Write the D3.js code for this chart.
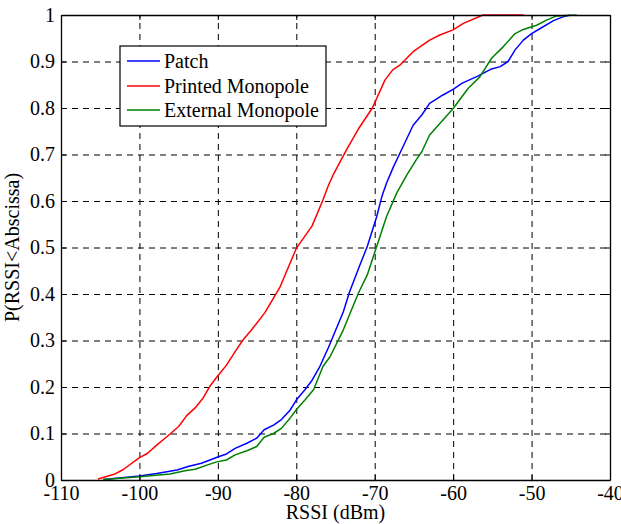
<!DOCTYPE html>
<html><head><meta charset="utf-8">
<script src="https://cdn.jsdelivr.net/npm/d3@7"></script>
</head><body style="margin:0">
<svg id="c" width="621" height="524">
<text id="xlabel" x="335.5" y="519" text-anchor="middle" font-size="20" font-family="Liberation Serif">RSSI (dBm)</text>
</svg>
<script>
const seriesNames = ["Patch", "Printed Monopole", "External Monopole"];
const seriesColors = ["#0000ff", "#ff0000", "#008000"];
const xTicks = [-110, -100, -90, -80, -70, -60, -50, -40];
const yTicks = [0, 0.1, 0.2, 0.3, 0.4, 0.5, 0.6, 0.7, 0.8, 0.9, 1];

const patchX = [-104.6,-100.0,-97.8,-95.2,-93.8,-92.1,-91.0,-90.1,-88.9,-87.8,-86.3,-85.05,-84.1,-82.9,-81.9,-80.8,-80.0,-78.9,-78.0,-77.0,-75.9,-74.0,-73.2,-71.9,-70.95,-69.75,-69.1,-68.5,-67.6,-66.7,-65.1,-64.0,-63.0,-61.3,-60.0,-58.9,-56.8,-55.1,-54.0,-53.0,-52.1,-51.05,-50.0,-48.9,-47.2,-46.0,-45.1];
const patchY = [0.001,0.0086,0.014,0.0215,0.029,0.036,0.043,0.049,0.056,0.068,0.079,0.09,0.108,0.118,0.130,0.15,0.172,0.194,0.214,0.244,0.285,0.362,0.405,0.462,0.502,0.566,0.609,0.638,0.674,0.706,0.763,0.785,0.81,0.828,0.84,0.853,0.869,0.884,0.889,0.9,0.925,0.946,0.96,0.971,0.988,0.996,1.0];

const printedX = [-105.3,-103.1,-102.1,-100.0,-99.0,-97.8,-96.5,-95.0,-94.0,-92.9,-91.9,-91.0,-90.1,-88.9,-87.8,-86.8,-85.7,-84.0,-82.1,-80.0,-78.0,-76.6,-75.9,-75.3,-73.6,-72.0,-70.3,-68.7,-67.7,-66.8,-65.1,-63.0,-61.7,-60.0,-58.7,-56.2,-51.0];
const printedY = [0.002,0.013,0.022,0.048,0.057,0.075,0.093,0.115,0.138,0.155,0.176,0.202,0.222,0.247,0.276,0.301,0.323,0.36,0.414,0.498,0.546,0.602,0.634,0.656,0.71,0.757,0.80,0.86,0.882,0.892,0.921,0.946,0.957,0.968,0.982,1.0,1.0];

const externalX = [-104.6,-100.0,-96.1,-94.2,-92.9,-91.4,-90.15,-88.9,-87.8,-86.3,-85.05,-84.1,-82.9,-81.9,-80.8,-79.95,-78.9,-77.8,-76.6,-75.7,-74.0,-72.1,-70.95,-69.75,-68.5,-67.2,-65.9,-64.65,-64.0,-63.0,-61.3,-60.0,-58.1,-56.6,-55.1,-53.6,-52.1,-51.05,-49.35,-48.1,-46.8,-44.25];
const externalY = [0.001,0.007,0.013,0.020,0.023,0.032,0.039,0.043,0.054,0.063,0.072,0.092,0.10,0.111,0.133,0.152,0.172,0.194,0.244,0.265,0.323,0.401,0.441,0.502,0.566,0.617,0.656,0.69,0.706,0.742,0.774,0.799,0.842,0.867,0.907,0.932,0.96,0.969,0.978,0.989,0.998,1.0];

const series = [
  {name: seriesNames[0], color: seriesColors[0], xs: patchX, ys: patchY},
  {name: seriesNames[1], color: seriesColors[1], xs: printedX, ys: printedY},
  {name: seriesNames[2], color: seriesColors[2], xs: externalX, ys: externalY}
];

const FONT = "Liberation Serif";
const L = 61, T = 15, R = 610, B = 480;
const svg = d3.select("#c");
const x = d3.scaleLinear().domain([-110, -40]).range([L, R]);
const y = d3.scaleLinear().domain([0, 1]).range([B, T]);
const fs = 20;

// grid
const gx = svg.append("g").attr("transform", `translate(0,${B})`)
  .call(d3.axisBottom(x).tickValues(xTicks).tickSize(-(B - T)).tickFormat(""));
const gy = svg.append("g").attr("transform", `translate(${L},0)`)
  .call(d3.axisLeft(y).tickValues(yTicks).tickSize(-(R - L)).tickFormat(""));
[gx, gy].forEach(g => {
  g.select(".domain").remove();
  g.selectAll("line").attr("stroke", "#000").attr("stroke-width", 1).attr("stroke-dasharray", "6,5");
});

// curves
const line = d3.line().x(d => x(d[0])).y(d => y(d[1]));
series.forEach(s => {
  svg.append("path").datum(s.xs.map((v, i) => [v, s.ys[i]]))
    .attr("d", line).attr("fill", "none").attr("stroke", s.color).attr("stroke-width", 1.5)
    .attr("stroke-linejoin", "round");
});

// axes with inward ticks
const hyphen = f => d => f(d).replace("\u2212", "-");
function styleAxis(g) {
  g.attr("font-family", FONT).attr("font-size", fs);
  g.selectAll("line").attr("stroke", "#000").attr("stroke-width", 1);
  g.select(".domain").attr("stroke", "#000").attr("stroke-width", 1.3);
  g.selectAll("text").attr("fill", "#000");
}
const ax = svg.append("g").attr("transform", `translate(0,${B})`)
  .call(d3.axisBottom(x).tickValues(xTicks).tickSizeInner(-5).tickSizeOuter(0).tickFormat(hyphen(d3.format("d"))));
styleAxis(ax);
ax.selectAll("text").attr("y", 6).attr("dy", "0.71em");
const axT = svg.append("g").attr("transform", `translate(0,${T})`)
  .call(d3.axisTop(x).tickValues(xTicks).tickSizeInner(-5).tickSizeOuter(0).tickFormat(""));
styleAxis(axT);
const ay = svg.append("g").attr("transform", `translate(${L},0)`)
  .call(d3.axisLeft(y).tickValues(yTicks).tickSizeInner(-5).tickSizeOuter(0).tickFormat(d => d === 0 || d === 1 ? d3.format("d")(d) : d3.format(".1f")(d)));
styleAxis(ay);
ay.selectAll("text").attr("x", -6);
const ayR = svg.append("g").attr("transform", `translate(${R},0)`)
  .call(d3.axisRight(y).tickValues(yTicks).tickSizeInner(-5).tickSizeOuter(0).tickFormat(""));
styleAxis(ayR);

// axis labels
svg.select("#xlabel").raise();
svg.append("text").attr("transform", `translate(19,${(T + B) / 2}) rotate(-90)`).attr("text-anchor", "middle")
  .attr("font-family", FONT).attr("font-size", fs).text("P(RSSI<Abscissa)");

// legend
const lg = svg.append("g");
lg.append("rect").attr("x", 120).attr("y", 46).attr("width", 206).attr("height", 80)
  .attr("fill", "#fff").attr("stroke", "#000").attr("stroke-width", 1.2);
const rowsY = [61, 86, 110];
series.forEach((s, i) => {
  lg.append("line").attr("x1", 127).attr("x2", 160).attr("y1", rowsY[i]).attr("y2", rowsY[i])
    .attr("stroke", s.color).attr("stroke-width", 1.5);
  lg.append("text").attr("x", 164).attr("y", rowsY[i]).attr("dy", "0.35em")
    .attr("font-family", FONT).attr("font-size", fs).text(s.name);
});
</script></body></html>
